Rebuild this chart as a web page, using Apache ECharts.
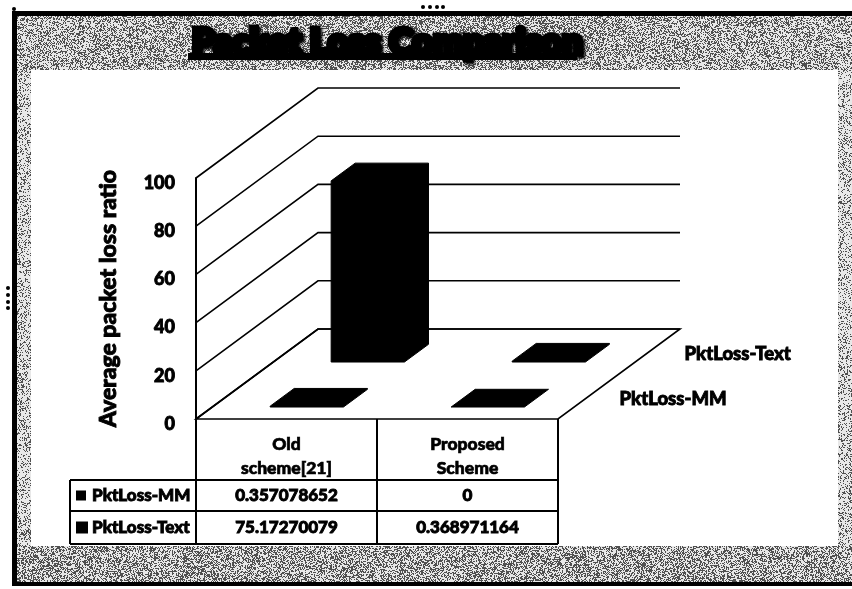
<!DOCTYPE html>
<html>
<head>
<meta charset="utf-8">
<title>Packet Loss Comparison</title>
<style>html,body{margin:0;padding:0;background:#fff}#chart{width:852px;height:589px}</style>
<script src="https://cdn.jsdelivr.net/npm/echarts@6/dist/echarts.min.js"></script>
</head>
<body>
<div id="chart"></div>
<script>
// Chart contents
const chartTitle = 'Packet Loss Comparison';
const yAxisTitle = 'Average packet loss ratio';
const categories = ['Old\nscheme[21]', 'Proposed\nScheme'];
const seriesNames = ['PktLoss-MM', 'PktLoss-Text'];
const pktLossMM = [0.357078652, 0];
const pktLossText = [75.17270079, 0.368971164];
const pktLossMMLabels = ['0.357078652', '0'];
const pktLossTextLabels = ['75.17270079', '0.368971164'];
const yTicks = [0, 20, 40, 60, 80, 100];

// Oblique projection of the depth axis, in pixels
const DEPTH_DX = 122;
const DEPTH_DY = -90;
const FONT = '"Lato","Open Sans",sans-serif';
const W = 852, H = 589;

// Stippled panel surround, denser along the top band
function stippleCanvas() {
  const raw = document.createElement('canvas');
  raw.width = W; raw.height = H;
  const rc = raw.getContext('2d');
  const img = rc.createImageData(W, H);
  let seed = 20231;
  for (let y = 0; y < H; y++) {
    for (let x = 0; x < W; x++) {
      seed ^= seed << 13; seed ^= seed >>> 17; seed ^= seed << 5;
      const r = (seed >>> 0) / 4294967296;
      let density = 0.26;
      if (y < 70) density = 0.50 - Math.abs(x - 426) / 426 * 0.12;
      else if (y > 545) density = 0.46;
      const v = r < density ? 80 : 232;
      const i = (y * W + x) * 4;
      img.data[i] = img.data[i + 1] = img.data[i + 2] = v;
      img.data[i + 3] = 255;
    }
  }
  rc.putImageData(img, 0, 0);
  const out = document.createElement('canvas');
  out.width = W; out.height = H;
  const oc = out.getContext('2d');
  oc.filter = 'blur(0.55px)';
  oc.drawImage(raw, 0, 0);
  return out;
}

// Screen position of a (category, value, depth) triple on the chart's own axes
function project(api, cat, val, depth, frac) {
  const p = api.coord([cat, val]);
  const band = api.size([1, 0])[0];
  return [p[0] - band / 2 + band * frac + DEPTH_DX * depth, p[1] + DEPTH_DY * depth];
}

function wallRenderer(params, api) {
  const v = api.value(0);
  const front = project(api, 0, v, 0, 0);
  const back = project(api, 0, v, 1, 0);
  const end = project(api, 1, v, 1, 1);
  return {
    type: 'polyline',
    shape: { points: [front, back, end] },
    style: { stroke: '#000', lineWidth: 1.6, fill: null }
  };
}

function floorRenderer(params, api) {
  return {
    type: 'polygon',
    shape: { points: [project(api, 0, 0, 0, 0), project(api, 1, 0, 0, 1), project(api, 1, 0, 1, 1), project(api, 0, 0, 1, 0)] },
    style: { stroke: '#000', lineWidth: 1.6, fill: '#fff' }
  };
}

// A block occupying the middle of its category and depth bands
function barRenderer(depthFront, depthBack) {
  return function (params, api) {
    const c = api.value(0), v = api.value(1);
    const f0 = 0.32, f1 = 0.725;
    return {
      type: 'polygon',
      shape: { points: [
        project(api, c, 0, depthFront, f0),
        project(api, c, v, depthFront, f0),
        project(api, c, v, depthBack, f0),
        project(api, c, v, depthBack, f1),
        project(api, c, 0, depthBack, f1),
        project(api, c, 0, depthFront, f1)
      ] },
      style: { fill: '#000', stroke: '#000', lineWidth: 1 }
    };
  };
}

// Data table under the floor, aligned to the category bands
function tableRenderer(params, api) {
  const left = project(api, 0, 0, 0, 0);
  const mid = project(api, 1, 0, 0, 0);
  const right = project(api, 1, 0, 0, 1);
  const y0 = left[1], y1 = y0 + 61, y2 = y0 + 92, y3 = y0 + 125;
  const headX = 70;
  const kids = [];
  const line = (x1, yy1, x2, yy2) => kids.push({ type: 'line', shape: { x1, y1: yy1, x2, y2: yy2 }, style: { stroke: '#000', lineWidth: 2 } });
  const cell = (text, x, y, align) => kids.push({ type: 'text', style: { text, x, y, align, verticalAlign: 'middle', font: '900 17px ' + FONT, fill: '#000', stroke: '#000', lineWidth: 0.9 } });
  line(headX, y1, right[0], y1); line(headX, y2, right[0], y2); line(headX, y3, right[0], y3);
  line(headX, y1, headX, y3);
  line(left[0], y0, left[0], y3); line(mid[0], y0, mid[0], y3); line(right[0], y0, right[0], y3);
  seriesNames.forEach((name, i) => {
    const cy = i === 0 ? (y1 + y2) / 2 : (y2 + y3) / 2;
    const key = i === 0 ? 10 : 12;
    kids.push({ type: 'rect', shape: { x: 76, y: cy - key / 2, width: key, height: key }, style: { fill: '#000' } });
    cell(name, 92, cy, 'left');
    const labels = i === 0 ? pktLossMMLabels : pktLossTextLabels;
    labels.forEach((t, c) => cell(t, (c === 0 ? (left[0] + mid[0]) / 2 : (mid[0] + right[0]) / 2), cy, 'center'));
  });
  return { type: 'group', children: kids };
}

// Series names beside the right edge of the floor
function depthLabelRenderer(params, api) {
  const i = api.value(0);
  const p = project(api, 1, 0, i === 0 ? 0.25 : 0.75, 1);
  return {
    type: 'text',
    style: { text: seriesNames[i], x: p[0] + (i === 0 ? 31 : 35), y: p[1] + 3, align: 'left', verticalAlign: 'middle', font: '900 18.5px ' + FONT, fill: '#000', stroke: '#000', lineWidth: 0.9 }
  };
}

const customBase = { type: 'custom', coordinateSystem: 'cartesian2d', clip: false, silent: true };

const chart = echarts.init(document.getElementById('chart'), null, { renderer: 'canvas' });
chart.setOption({
  animation: false,
  backgroundColor: '#fff',
  title: {
    text: chartTitle, left: 382, top: 19, textAlign: 'center',
    textStyle: { fontFamily: FONT, fontWeight: 900, fontSize: 36, color: '#000', textBorderColor: '#000', textBorderWidth: 5, textShadowColor: '#000', textShadowBlur: 3, textShadowOffsetX: 2, textShadowOffsetY: 2 }
  },
  grid: { left: 196, right: W - 558, top: 178, bottom: H - 419 },
  xAxis: {
    type: 'category', data: categories,
    axisLine: { show: false }, axisTick: { show: false },
    axisLabel: { margin: 13, lineHeight: 24, fontFamily: FONT, fontWeight: 900, fontSize: 17.5, color: '#000', textBorderColor: '#000', textBorderWidth: 0.7, interval: 0 }
  },
  yAxis: {
    type: 'value', min: 0, max: 100, interval: 20,
    name: yAxisTitle, nameLocation: 'middle', nameGap: 76, nameRotate: 90,
    nameTextStyle: { fontFamily: FONT, fontWeight: 900, fontSize: 23, color: '#000', textBorderColor: '#000', textBorderWidth: 0.9 },
    axisLine: { show: true, lineStyle: { color: '#000', width: 2 } }, axisTick: { show: false }, splitLine: { show: false },
    axisLabel: { margin: 21, verticalAlign: 'top', lineHeight: 10, fontFamily: FONT, fontWeight: 900, fontSize: 18, color: '#000', textBorderColor: '#000', textBorderWidth: 0.9 }
  },
  graphic: [
    { type: 'image', z: -10, silent: true, style: { image: stippleCanvas(), x: 0, y: 0, width: W, height: H } },
    { type: 'rect', z: -9, silent: true, shape: { x: 31, y: 70, width: 807, height: 476 }, style: { fill: '#fff' } },
    // Title underline
    { type: 'rect', z: 1, silent: true, shape: { x: 188, y: 53, width: 389, height: 7 }, style: { fill: '#000' } },
    // Frame and surrounding page
    { type: 'rect', z: -8, silent: true, shape: { x: 0, y: 0, width: W, height: 11 }, style: { fill: '#fff' } },
    { type: 'rect', z: -8, silent: true, shape: { x: 0, y: 0, width: 12, height: H }, style: { fill: '#fff' } },
    { type: 'rect', z: -8, silent: true, shape: { x: 0, y: 586, width: W, height: 3 }, style: { fill: '#fff' } },
    { type: 'rect', z: -7, silent: true, shape: { x: 12, y: 11, width: W - 12, height: 5 }, style: { fill: '#000' } },
    { type: 'rect', z: -7, silent: true, shape: { x: 12, y: 11, width: 5, height: 575 }, style: { fill: '#000' } },
    { type: 'rect', z: -7, silent: true, shape: { x: 12, y: 582, width: W - 12, height: 4 }, style: { fill: '#000' } },
    // Selection handles on the frame
    ...[[423, 7], [430, 7], [437, 7], [443, 7], [8, 288], [8, 295], [8, 302], [8, 308], [14, 9]].map(c => ({
      type: 'circle', z: -7, silent: true, shape: { cx: c[0], cy: c[1], r: 2 }, style: { fill: '#000' }
    }))
  ],
  series: [
    Object.assign({}, customBase, { name: 'floor', renderItem: floorRenderer, data: [[0]], z: 1 }),
    Object.assign({}, customBase, { name: 'walls', renderItem: wallRenderer, encode: { y: 0 }, data: yTicks.map(v => [v]), z: 1 }),
    Object.assign({}, customBase, { name: seriesNames[1], renderItem: barRenderer(0.633, 0.83), encode: { x: 0, y: 1 }, data: pktLossText.map((v, i) => [i, v]), z: 2 }),
    Object.assign({}, customBase, { name: seriesNames[0], renderItem: barRenderer(0.133, 0.33), encode: { x: 0, y: 1 }, data: pktLossMM.map((v, i) => [i, v]), z: 3 }),
    Object.assign({}, customBase, { name: 'depth labels', renderItem: depthLabelRenderer, data: [[0], [1]], z: 3 }),
    Object.assign({}, customBase, { name: 'table', renderItem: tableRenderer, data: [[0]], z: 3 })
  ]
});
</script>
</body>
</html>
